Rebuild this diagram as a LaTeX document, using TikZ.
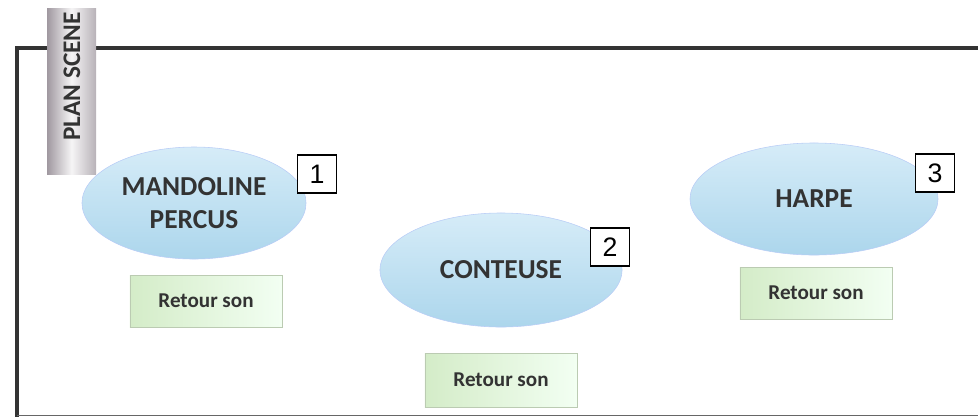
\documentclass[tikz,border=0pt]{standalone}
\usepackage{fontspec}
\setmainfont{Carlito}
\newfontfamily\numfont{Liberation Sans}
\usetikzlibrary{shapes.geometric,shadows}

\definecolor{textgray}{RGB}{51,51,51}
\definecolor{elllight}{RGB}{214,236,248}
\definecolor{ellblue}{RGB}{172,214,236}
\definecolor{boxgreen}{RGB}{212,236,200}
\definecolor{tabgray}{RGB}{160,152,160}

\begin{document}
\begin{tikzpicture}[x=0.025cm,y=-0.025cm]
		\tikzset{musician/.style = {shape=ellipse, draw=ellblue!80!blue!60, line width=0.4pt, top color=elllight, bottom color=ellblue, minimum width=5.6cm, minimum height=2.8cm, inner sep=0pt, align=center, font=\bfseries\fontsize{19.5}{22}\selectfont, text=textgray}}
		\tikzset{retour/.style = {shape=rectangle, draw=boxgreen!70!gray, line width=0.3pt, left color=boxgreen, right color=green!5!white, minimum width=3.8cm, minimum height=1.3cm, font=\bfseries\fontsize{15}{17}\selectfont, text=textgray, drop shadow={opacity=0.15, shadow xshift=0.6pt, shadow yshift=-0.6pt}}}
		\tikzset{numbox/.style = {shape=rectangle, draw=black, line width=1.2pt, fill=white, minimum width=0.98cm, minimum height=0.95cm, inner sep=0pt, font=\numfont\fontsize{19}{19}\selectfont}}

		\useasboundingbox (0,0) rectangle (978,417);

		% cadre de la scene
		\draw[line width=2.2pt, black!80] (15,48) -- (978,48);
		\draw[line width=2.2pt, black!80] (17,48) -- (17,417);
		\draw[line width=0.8pt, black!60] (17,415.5) -- (978,415.5);

		% onglet
		\shade[left color=tabgray, right color=tabgray!75, middle color=white!90!tabgray] (47,8) rectangle (96,174);
		\node[rotate=90, anchor=west, inner sep=0pt, font=\bfseries\fontsize{18}{18}\selectfont, text=textgray] (plan) at (72,141) {PLAN SCENE};

		% musiciens
		\node[musician] (mando) at (194,203) {MANDOLINE\\[2pt]PERCUS};
		\node[musician, minimum width=6.05cm, minimum height=2.85cm] (conteuse) at (501,270) {CONTEUSE};
		\node[musician, minimum width=6.2cm] (harpe) at (814,199) {HARPE};

		\node[numbox] (n1) at (317,174) {1};
		\node[numbox] (n2) at (610,247) {2};
		\node[numbox] (n3) at (935,173) {3};

		% retours
		\node[retour] (r1) at (206,301) {Retour son};
		\node[retour, minimum height=1.35cm] (r2) at (501,380) {Retour son};
		\node[retour] (r3) at (816,293) {Retour son};

	\end{tikzpicture}
\end{document}
